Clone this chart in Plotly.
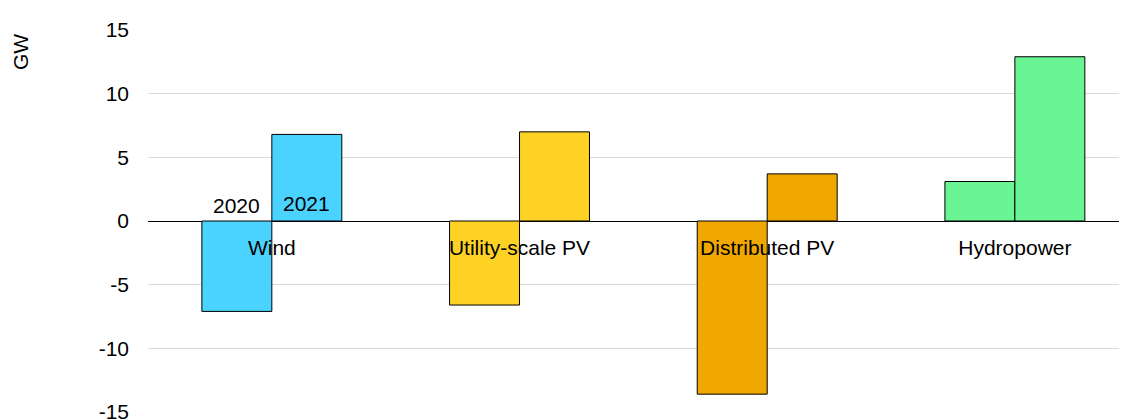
import plotly.graph_objects as go

categories = ["Wind", "Utility-scale PV", "Distributed PV", "Hydropower"]
series_names = ["2020", "2021"]
values_2020 = [-7.1, -6.6, -13.6, 3.1]
values_2021 = [6.8, 7.0, 3.7, 12.9]
colors = ["#4AD3FF", "#FDD225", "#F0A800", "#69F593"]
y_ticks = [-15, -10, -5, 0, 5, 10, 15]

FONT = "Liberation Sans, Arial, sans-serif"
FS = 21

fig = go.Figure()
for name, vals in zip(series_names, [values_2020, values_2021]):
    fig.add_trace(go.Bar(
        x=categories, y=vals, name=name,
        marker=dict(color=colors, line=dict(color="#000000", width=1)),
        showlegend=False,
    ))

fig.update_layout(
    width=1127, height=419,
    margin=dict(l=140, r=0, t=22, b=15),
    paper_bgcolor="white", plot_bgcolor="white",
    barmode="group", bargap=0.435, bargroupgap=0,
    font=dict(family=FONT, size=FS, color="#000000"),
    xaxis=dict(
        type="category",
        range=[-0.5, 3.485],
        anchor="free", position=0.5,
        showgrid=False, showline=False, ticks="",
        zeroline=False, automargin=False,
        tickfont=dict(size=FS, color="#000000"),
        ticklabelstandoff=12,
    ),
    yaxis=dict(
        range=[-15, 15],
        tickvals=y_ticks,
        ticktext=[str(v) for v in y_ticks],
        showgrid=True, gridcolor="#D9D9D9", gridwidth=1,
        zeroline=True, zerolinecolor="#000000", zerolinewidth=1,
        showline=False, ticks="", automargin=False,
        tickfont=dict(size=FS, color="#000000"),
        ticklabelstandoff=18,
    ),
    annotations=[
        dict(text="GW", x=0, xref="paper", xshift=-128, xanchor="center",
             y=1, yref="paper", yanchor="top", yshift=-2, textangle=-90,
             showarrow=False, font=dict(size=FS, color="#000000")),
        dict(text=series_names[0], x=-0.1415, xref="x", y=0, yref="y",
             yanchor="bottom", showarrow=False, yshift=2,
             font=dict(size=FS, color="#000000")),
        dict(text=series_names[1], x=0.1415, xref="x", y=0, yref="y",
             yanchor="bottom", showarrow=False, yshift=4,
             font=dict(size=FS, color="#000000")),
    ],
)

fig.write_html("out.html")
